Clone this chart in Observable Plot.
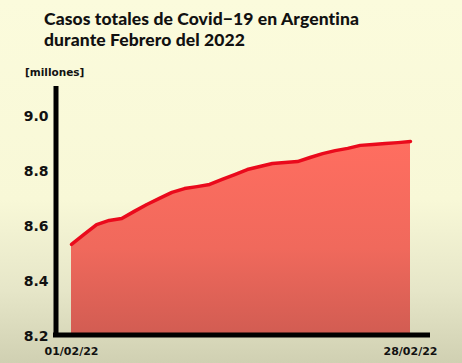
<!DOCTYPE html>
<html>
<head>
<meta charset="utf-8">
<script src="https://cdn.jsdelivr.net/npm/d3@7"></script>
<script src="https://cdn.jsdelivr.net/npm/@observablehq/plot@0.6"></script>
<style>
  html, body { margin: 0; padding: 0; }
  body {
    width: 462px; height: 363px; overflow: hidden; position: relative;
    background: linear-gradient(to bottom, #fbfbdc 0%, #f8f8d7 55%, #e6e6c8 80%, #d0d0b2 100%);
  }
  #title {
    position: absolute; left: 44px; top: 9px;
    font-family: "Lato", sans-serif; font-weight: 900; font-size: 17.5px;
    line-height: 20.5px; color: #111; letter-spacing: 0.1px;
  }
  #unit {
    position: absolute; left: 25px; top: 66px;
    font-family: "DejaVu Sans", sans-serif; font-weight: 700; font-size: 10.5px; color: #111;
  }
  #chart { position: absolute; left: 0; top: 0; }
</style>
</head>
<body>
<div id="title">Casos totales de Covid−19 en Argentina<br>durante Febrero del 2022</div>
<div id="unit">[millones]</div>
<div id="chart"></div>
<script>
// Data: cumulative cases (millions), Feb 2022
const days = ["2022-02-01","2022-02-02","2022-02-03","2022-02-04","2022-02-05","2022-02-06","2022-02-07",
  "2022-02-08","2022-02-09","2022-02-10","2022-02-11","2022-02-12","2022-02-13","2022-02-14",
  "2022-02-15","2022-02-16","2022-02-17","2022-02-18","2022-02-19","2022-02-20","2022-02-21",
  "2022-02-22","2022-02-23","2022-02-24","2022-02-25","2022-02-26","2022-02-27","2022-02-28"];
const cases = [8.535, 8.571, 8.607, 8.622, 8.629, 8.655, 8.680,
  8.702, 8.724, 8.738, 8.745, 8.753, 8.771, 8.789,
  8.807, 8.818, 8.829, 8.833, 8.836, 8.851, 8.865,
  8.876, 8.884, 8.895, 8.898, 8.902, 8.905, 8.909];
const yTicks = [8.2, 8.4, 8.6, 8.8, 9.0];
const xTickLabels = ["2022-02-01", "2022-02-28"];

const data = days.map((d, i) => ({date: new Date(d + "T00:00:00Z"), value: cases[i]}));
const xTicks = xTickLabels.map(d => new Date(d + "T00:00:00Z"));

const plot = Plot.plot({
  width: 462,
  height: 363,
  marginLeft: 71,
  marginRight: 52,
  marginTop: 116,
  marginBottom: 27,
  style: {background: "transparent", overflow: "visible"},
  x: {type: "utc", domain: [xTicks[0], xTicks[1]]},
  y: {domain: [8.2, 9.0]},
  marks: [
    Plot.areaY(data, {x: "date", y1: 8.2, y2: "value", fill: "url(#areaGrad)"}),
    Plot.lineY(data, {x: "date", y: "value", stroke: "#ea0a1c", strokeWidth: 3.5, strokeLinejoin: "round"}),
    Plot.ruleX([xTicks[0]], {dx: -15.5, insetTop: -30, insetBottom: -1, stroke: "#000", strokeWidth: 5}),
    Plot.ruleY([8.2], {dy: -1.5, insetLeft: -18, insetRight: -20, stroke: "#000", strokeWidth: 5}),
    Plot.axisY({ticks: yTicks, tickFormat: d3.format(".1f"), tickSize: 0, tickPadding: 23, label: null,
      fontSize: 14, fontWeight: "bold", fontFamily: "DejaVu Sans", fill: "#111"}),
    Plot.axisX({ticks: xTicks, tickFormat: d3.utcFormat("%d/%m/%y"), tickSize: 0, tickPadding: 11, label: null,
      fontSize: 11, fontWeight: "bold", fontFamily: "DejaVu Sans", fill: "#111"})
  ]
});

const ns = "http://www.w3.org/2000/svg";
const defs = document.createElementNS(ns, "defs");
defs.innerHTML = `<linearGradient id="areaGrad" x1="0" y1="0" x2="0" y2="1">
  <stop offset="0%" stop-color="#ff6e60"/>
  <stop offset="55%" stop-color="#f0695c"/>
  <stop offset="100%" stop-color="#d15c52"/>
</linearGradient>`;
plot.insertBefore(defs, plot.firstChild);
document.getElementById("chart").appendChild(plot);
</script>
</body>
</html>
